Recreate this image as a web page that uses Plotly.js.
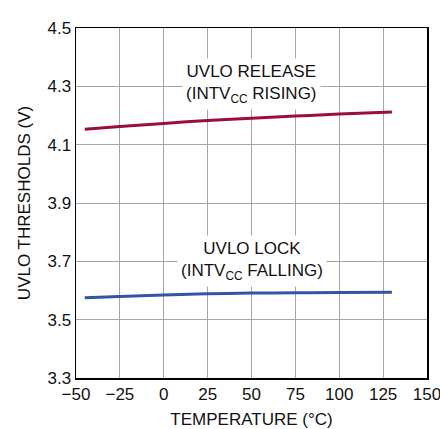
<!DOCTYPE html>
<html>
<head>
<meta charset="utf-8">
<script src="https://cdn.plot.ly/plotly-3.0.1.min.js"></script>
<style>html,body{margin:0;padding:0;background:#fff;}#chart{width:440px;height:429px;}</style>
</head>
<body>
<div id="chart"></div>
<script>
const temperature = [-45, -25, 0, 25, 50, 75, 100, 130];
const uvloRelease = [4.153, 4.162, 4.173, 4.183, 4.191, 4.198, 4.205, 4.212];
const uvloLock = [3.575, 3.579, 3.585, 3.589, 3.591, 3.592, 3.593, 3.594];
const xTicks = [-50, -25, 0, 25, 50, 75, 100, 125, 150];
const yTicks = [3.3, 3.5, 3.7, 3.9, 4.1, 4.3, 4.5];

const FONT = '"Liberation Sans Narrow", "Arial Narrow", "Liberation Sans", Arial, sans-serif';

const traces = [
  {x: temperature, y: uvloRelease, mode: 'lines', line: {color: '#9a0f3a', width: 3, shape: 'spline'}, hoverinfo: 'skip'},
  {x: temperature, y: uvloLock, mode: 'lines', line: {color: '#3553a5', width: 3, shape: 'spline'}, hoverinfo: 'skip'}
];

const layout = {
  width: 440, height: 429,
  margin: {l: 76, r: 13, t: 28, b: 51},
  paper_bgcolor: '#fff', plot_bgcolor: '#fff',
  showlegend: false,
  font: {family: FONT, size: 17, color: '#111'},
  xaxis: {
    range: [-50, 150], tickvals: xTicks, ticktext: xTicks.map(v => v < 0 ? '\u2212' + Math.abs(v) : String(v)),
    ticklabeloverflow: 'allow',
    showgrid: true, gridcolor: '#a6a6a6', gridwidth: 1,
    showline: true, linecolor: '#000', linewidth: 1.5, mirror: true,
    ticks: '', zeroline: false, ticklabelstandoff: 0,
    title: {text: 'TEMPERATURE (°C)', font: {family: FONT, size: 17}, standoff: 10}
  },
  yaxis: {
    range: [3.3, 4.5], tickvals: yTicks, ticktext: yTicks.map(v => v.toFixed(1)),
    showgrid: true, gridcolor: '#a6a6a6', gridwidth: 1,
    showline: true, linecolor: '#000', linewidth: 1.5, mirror: true,
    ticks: '', zeroline: false,
    title: {text: 'UVLO THRESHOLDS (V)', font: {family: FONT, size: 17}, standoff: 12}
  },
  annotations: [
    {x: 50, y: 4.309, xref: 'x', yref: 'y', showarrow: false,
     text: 'UVLO RELEASE<br>(INTV<sub>CC</sub> RISING)', bgcolor: '#fff', borderpad: 3,
     font: {family: FONT, size: 17, color: '#111'}},
    {x: 50, y: 3.70, xref: 'x', yref: 'y', showarrow: false,
     text: 'UVLO LOCK<br>(INTV<sub>CC</sub> FALLING)', bgcolor: '#fff', borderpad: 3,
     font: {family: FONT, size: 17, color: '#111'}}
  ]
};

Plotly.newPlot('chart', traces, layout, {staticPlot: true, displayModeBar: false});
</script>
</body>
</html>
